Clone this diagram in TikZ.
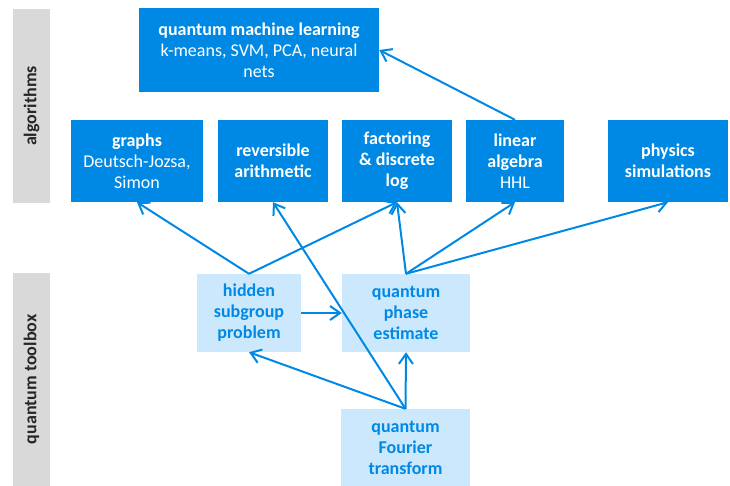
\documentclass[tikz,border=0pt]{standalone}
\usepackage{fontspec}
\setmainfont{Carlito}
\usetikzlibrary{arrows.meta, positioning}
\definecolor{qblue}{RGB}{0,137,228}
\definecolor{qlight}{RGB}{204,232,252}
\definecolor{qgray}{RGB}{217,217,217}
\definecolor{qdark}{RGB}{38,38,38}

\begin{document}
\begin{tikzpicture}[
    x=1pt, y=-1pt,
    font=\fontsize{18}{21}\selectfont,
    algo/.style={rectangle, fill=qblue, text=white, align=center, inner sep=2pt, minimum height=82pt},
    tool/.style={rectangle, fill=qlight, text=qblue, font=\fontsize{18}{21}\selectfont\bfseries, align=center, inner sep=2pt, minimum height=78pt},
    bar/.style={rectangle, fill=qgray, minimum width=37pt, inner sep=0pt},
    barlabel/.style={rotate=90, text=qdark, font=\fontsize{18}{21}\selectfont\bfseries},
    arrow/.style={-{Straight Barb[length=10pt, width=14pt]}, line width=2pt, draw=qblue}
]
\useasboundingbox (0,0) rectangle (730,486);

% side bars
\node[bar, minimum height=194pt] (algbar) at (31.5,106) {};
\node[barlabel] at (algbar.center) {algorithms};
\node[bar, minimum height=213pt] (toolbar) at (31.5,379.5) {};
\node[barlabel] at (toolbar.center) {quantum toolbox};

% algorithms
\node[algo, minimum width=240pt, minimum height=84pt] (qml) at (259,50) {\textbf{quantum machine learning}\\k-means, SVM, PCA, neural\\nets};
\node[algo, minimum width=132pt] (graphs) at (137,161) {\textbf{graphs}\\Deutsch-Jozsa,\\Simon};
\node[algo, minimum width=110pt] (revers) at (273,161) {\textbf{reversible}\\\textbf{arithmetic}};
\node[algo, minimum width=110pt] (factor) at (397,161) {\textbf{factoring}\\\textbf{\& discrete}\\\textbf{log}};
\node[algo, minimum width=98pt] (linalg) at (515,161) {\textbf{linear}\\\textbf{algebra}\\HHL};
\node[algo, minimum width=120pt] (physics) at (668,161) {\textbf{physics}\\\textbf{simulations}};

% quantum toolbox
\node[tool, minimum width=104pt] (hsp) at (249,313) {hidden\\subgroup\\problem};
\node[tool, minimum width=128pt] (qpe) at (406,313) {quantum\\phase\\estimate};
\node[tool, minimum width=129pt, minimum height=77pt] (qft) at (405.5,447.5) {quantum\\Fourier\\transform};

\draw[arrow] (linalg.north) -- (qml.east);
\draw[arrow] (hsp.north) -- (graphs.south);
\draw[arrow] (hsp.north) -- (factor.south);
\draw[arrow] (hsp.east) -- (qpe.west);
\draw[arrow] (qpe.north) -- (factor.south);
\draw[arrow] (qpe.north) -- (linalg.south);
\draw[arrow] (qpe.north) -- (physics.south);
\draw[arrow] (qft.north) -- (revers.south);
\draw[arrow] (qft.north) -- (hsp.south);
\draw[arrow] (qft.north) -- (qpe.south);

\end{tikzpicture}
\end{document}
